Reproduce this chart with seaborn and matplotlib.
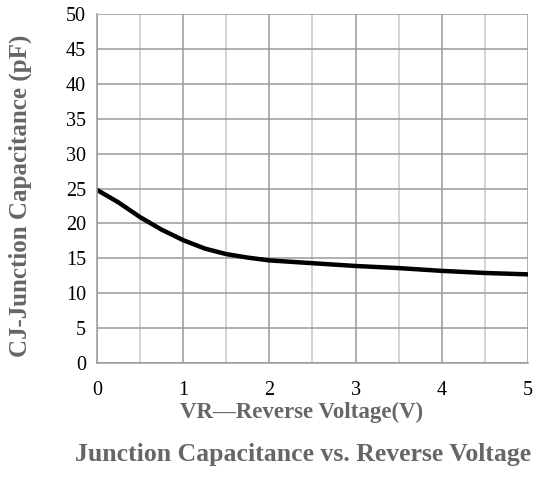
import matplotlib
matplotlib.use("Agg")
import matplotlib.pyplot as plt
import seaborn as sns
import pandas as pd
from matplotlib.ticker import MultipleLocator

vr = [0.0, 0.25, 0.5, 0.75, 1.0, 1.25, 1.5, 1.75, 2.0, 2.5, 3.0, 3.5, 4.0, 4.5, 5.0]
cj = [24.8, 23.0, 20.9, 19.1, 17.6, 16.4, 15.6, 15.1, 14.7, 14.3, 13.9, 13.6, 13.2, 12.9, 12.7]

df = pd.DataFrame({"VR": vr, "CJ": cj})

sns.set_style("white")
plt.rcParams["font.family"] = ["Liberation Serif", "DejaVu Serif"]

fig = plt.figure(figsize=(5.36, 4.84), dpi=100)
ax = fig.add_axes([0.181, 0.25, 0.804, 0.721])

sns.lineplot(data=df, x="VR", y="CJ", ax=ax, color="black", linewidth=3.2)

ax.set_xlim(0, 5)
ax.set_ylim(0, 50)
ax.xaxis.set_major_locator(MultipleLocator(1))
ax.xaxis.set_minor_locator(MultipleLocator(0.5))
ax.yaxis.set_major_locator(MultipleLocator(5))

ax.grid(which="major", axis="both", color="#9a9a9a", linewidth=1.1)
ax.grid(which="minor", axis="x", color="#c8c8c8", linewidth=1.1)
ax.set_axisbelow(True)

for s in ["top", "right"]:
    ax.spines[s].set_visible(False)
for s in ["left", "bottom"]:
    ax.spines[s].set_color("#9a9a9a")
    ax.spines[s].set_linewidth(1.1)

ax.tick_params(axis="both", which="major", length=6, width=1.1, color="#9a9a9a",
               labelsize=14.5, labelcolor="black", direction="out")
ax.tick_params(axis="x", which="minor", length=0)
ax.tick_params(axis="x", pad=7)
ax.tick_params(axis="y", pad=2)

ax.set_xlabel("")
ax.set_ylabel("")

lab = dict(fontweight="bold", color="#666666", ha="center", va="center")
fig.text(0.563, 0.147, "VR\u2014Reverse Voltage(V)", fontsize=16.5, **lab)
fig.text(0.037, 0.595, "CJ-Junction Capacitance (pF)", fontsize=18, rotation=90, **lab)
fig.text(0.565, 0.06, "Junction Capacitance vs. Reverse Voltage", fontsize=18.5, **lab)

fig.savefig("out.png", dpi=100)
